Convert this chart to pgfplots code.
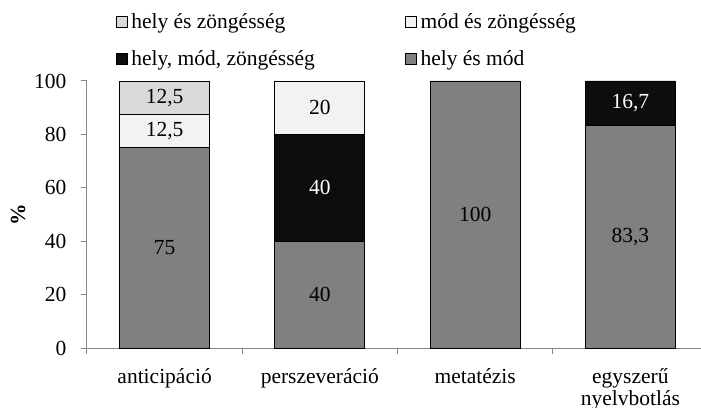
\documentclass[border=0pt]{standalone}
\usepackage{fontspec}
\setmainfont{Liberation Serif}
\usepackage{pgfplots}
\pgfplotsset{compat=1.18}

\definecolor{axisgray}{HTML}{868686}
\definecolor{cHelyZong}{HTML}{D9D9D9}
\definecolor{cModZong}{HTML}{F2F2F2}
\definecolor{cMind}{HTML}{0D0D0D}
\definecolor{cHelyMod}{HTML}{808080}

\begin{document}
\begin{tikzpicture}[font=\fontsize{21.5}{23}\selectfont]
\useasboundingbox (-87pt,-59pt) rectangle (614pt,348pt);
\begin{axis}[
  at={(0,0)}, anchor=south west,
  scale only axis, width=621pt, height=267pt,
  ybar stacked, bar width=90pt,
  xmin=-0.5, xmax=3.5, ymin=0, ymax=100,
  axis x line=bottom, axis y line=left,
  axis line style={draw=axisgray, line width=1pt, -},
  tick style={draw=axisgray, line width=1pt},
  tick align=outside, major tick length=6pt,
  ytick={0,20,...,100},
  /pgf/number format/assume math mode=true,
  yticklabel style={font=\fontsize{21.5}{23}\selectfont, xshift=-11pt},
  xtick={-0.5,0.5,1.5,2.5,3.5}, xticklabels={},
  extra x ticks={0,1,2,3},
  extra x tick labels={anticipáció,perszeveráció,metatézis,{egyszerű\\nyelvbotlás}},
  extra x tick style={major tick length=0pt,
    xticklabel style={align=center, anchor=north, yshift=-17pt, font=\fontsize{21.5}{22}\selectfont}},
  ylabel={\textbf{\%}},
  ylabel style={at={(axis description cs:-0.111,0.5)}, anchor=center},
  legend columns=2,
  reverse legend,
  legend cell align=left,
  legend style={at={(axis description cs:0.041,1.268)}, anchor=north west,
    draw=none, fill=none, font=\fontsize{21.5}{23}\selectfont,
    /tikz/every even column/.append style={column sep=88pt},
    /tikz/every odd column/.append style={column sep=2pt},
    row sep=16pt},
  legend image code/.code={\draw[#1, draw=black, line width=0.6pt] (0pt,-5.5pt) rectangle (11pt,5.5pt);},
  every axis plot/.append style={draw=black, line width=0.8pt},
  visualization depends on=rawy \as \rawy,
  nodes near coords={\ifdim\rawy pt=0pt \else\pgfmathprintnumber[use comma]{\rawy}\fi},
  every node near coord/.append style={anchor=center,
    font=\fontsize{21.5}{23}\selectfont, text=black},
]
% hely és mód
\addplot[fill=cHelyMod] coordinates {(0,75) (1,40) (2,100) (3,83.3)};
% hely, mód, zöngésség
\addplot[fill=cMind, every node near coord/.append style={text=white}] coordinates {(0,0) (1,40) (2,0) (3,16.7)};
% mód és zöngésség
\addplot[fill=cModZong] coordinates {(0,12.5) (1,20) (2,0) (3,0)};
% hely és zöngésség
\addplot[fill=cHelyZong] coordinates {(0,12.5) (1,0) (2,0) (3,0)};
\legend{hely és mód, {hely, mód, zöngésség}, mód és zöngésség, hely és zöngésség}
\end{axis}
\end{tikzpicture}
\end{document}
